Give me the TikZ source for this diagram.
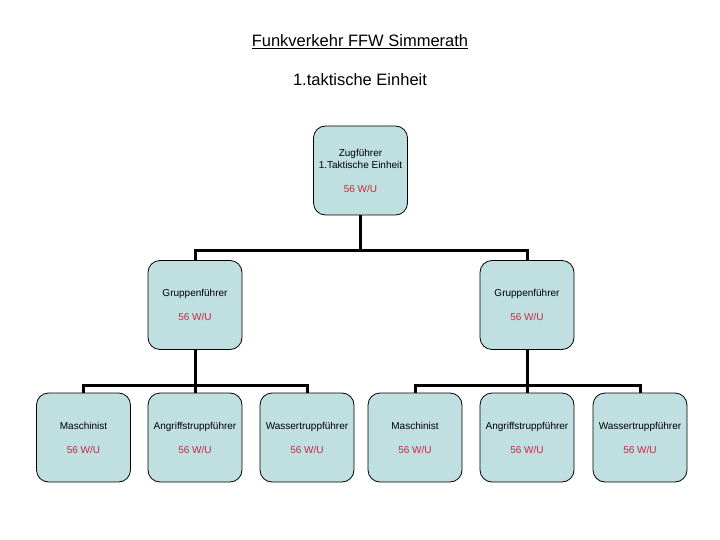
\documentclass[tikz,border=0pt]{standalone}
\usepackage{fontspec}
\setmainfont{Liberation Sans}
\definecolor{boxfill}{HTML}{BFDFE0}
\definecolor{radio}{HTML}{C8283C}
\begin{document}
\begin{tikzpicture}[x=1pt,y=1pt,
  box/.style={draw=black,line width=0.8pt,fill=boxfill,rounded corners=12pt,minimum width=94pt,minimum height=89pt,align=center,font=\fontsize{10}{12}\selectfont,inner sep=0pt},
  conn/.style={line width=3pt}]
\useasboundingbox (0,0) rectangle (720,-540);
\node[font=\fontsize{16.5}{19}\selectfont] (t1) at (360,-42) {\underline{Funkverkehr FFW Simmerath}};
\node[font=\fontsize{16.5}{19}\selectfont] (t2) at (360,-80) {1.taktische Einheit};
\node[box] (z) at (360.5,-170.5) {Zugführer\\1.Taktische Einheit\\[12pt]\textcolor{radio}{56 W/U}};
\node[box] (g1) at (195,-305) {Gruppenführer\\[12pt]\textcolor{radio}{56 W/U}};
\node[box] (g2) at (527,-305) {Gruppenführer\\[12pt]\textcolor{radio}{56 W/U}};
\foreach \n/\x/\t in {a/83.5/Maschinist,b/195/Angriffstruppführer,c/307/Wassertruppführer,d/415/Maschinist,e/527/Angriffstruppführer,f/640/Wassertruppführer}{
  \node[box] (\n) at (\x,-437.5) {\t\\[12pt]\textcolor{radio}{56 W/U}};
}
\coordinate (zb) at (360.5,-250);
\coordinate (g1b) at (195,-385);
\coordinate (g2b) at (527,-385);
\draw[conn] (z.south) -- (zb);
\draw[conn] (g1.north) |- (zb) -| (g2.north);
\draw[conn] (g1.south) -- (g1b);
\draw[conn] (g2.south) -- (g2b);
\draw[conn] (a.north) |- (g1b) -| (c.north);
\draw[conn] (b.north) -- (g1b);
\draw[conn] (d.north) |- (g2b) -| (f.north);
\draw[conn] (e.north) -- (g2b);
\end{tikzpicture}
\end{document}
